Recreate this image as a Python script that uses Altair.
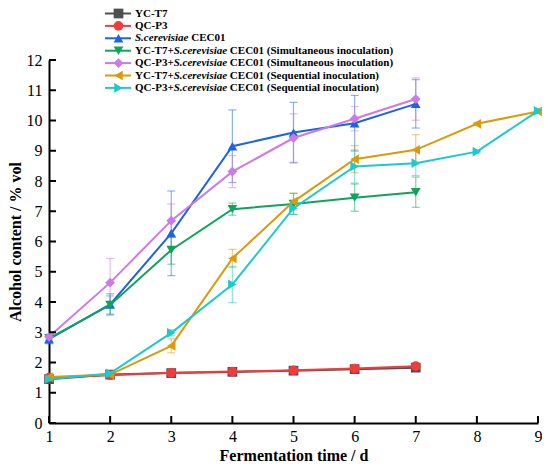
import altair as alt
import pandas as pd

# ---------------- data ----------------
series_names = [
    "YC-T7",
    "QC-P3",
    "S.cerevisiae CEC01",
    "YC-T7+S.cerevisiae CEC01 (Simultaneous inoculation)",
    "QC-P3+S.cerevisiae CEC01 (Simultaneous inoculation)",
    "YC-T7+S.cerevisiae CEC01 (Sequential inoculation)",
    "QC-P3+S.cerevisiae CEC01 (Sequential inoculation)",
]
colors = ["#4f4f4f", "#f23c3c", "#1c64e0", "#0fa35c", "#cc7ae6", "#dc9a0a", "#1ccaca"]
shapes = ["square", "circle", "triangle-up", "triangle-down", "diamond", "triangle-left", "triangle-right"]

days_short = [1, 2, 3, 4, 5, 6, 7]
days_long = [1, 2, 3, 4, 5, 6, 7, 8, 9]

yc_t7 = [1.45, 1.60, 1.65, 1.69, 1.73, 1.78, 1.83]
yc_t7_sd = [0.04, 0.04, 0.04, 0.04, 0.04, 0.04, 0.04]
qc_p3 = [1.50, 1.58, 1.66, 1.70, 1.74, 1.80, 1.88]
qc_p3_sd = [0.04, 0.04, 0.04, 0.04, 0.04, 0.04, 0.05]
sc = [2.77, 3.92, 6.27, 9.15, 9.60, 9.91, 10.55]
sc_sd = [0.15, 0.35, 1.40, 1.20, 1.00, 0.92, 0.80]
yc_sim = [2.80, 3.90, 5.72, 7.07, 7.24, 7.45, 7.63]
yc_sim_sd = [0.08, 0.30, 0.47, 0.20, 0.35, 0.45, 0.50]
qc_sim = [2.85, 4.64, 6.69, 8.31, 9.42, 10.06, 10.71]
qc_sim_sd = [0.08, 0.80, 0.55, 0.53, 0.80, 0.40, 0.70]
yc_seq = [1.52, 1.60, 2.55, 5.44, 7.32, 8.72, 9.03, 9.89, 10.30]
yc_seq_sd = [0.08, 0.05, 0.23, 0.30, 0.28, 0.45, 0.50, 0.05, 0.05]
qc_seq = [1.45, 1.64, 2.98, 4.58, 7.10, 8.48, 8.59, 8.97, 10.32]
qc_seq_sd = [0.05, 0.06, 0.10, 0.60, 0.20, 0.55, 0.41, 0.05, 0.08]

y_tick_values = list(range(0, 13))
x_tick_values = list(range(1, 10))

legend_prefix = ["YC-T7", "QC-P3", "", "YC-T7+", "QC-P3+", "YC-T7+", "QC-P3+"]
legend_italic = ["", "", "S.cerevisiae", "S.cerevisiae", "S.cerevisiae", "S.cerevisiae", "S.cerevisiae"]
legend_suffix = [
    "", "", "CEC01",
    "CEC01 (Simultaneous inoculation)",
    "CEC01 (Simultaneous inoculation)",
    "CEC01 (Sequential inoculation)",
    "CEC01 (Sequential inoculation)",
]

all_values = [yc_t7, qc_p3, sc, yc_sim, qc_sim, yc_seq, qc_seq]
all_sd = [yc_t7_sd, qc_p3_sd, sc_sd, yc_sim_sd, qc_sim_sd, yc_seq_sd, qc_seq_sd]
all_days = [days_short] * 5 + [days_long] * 2

# ---------------- layout constants ----------------
W, H = 489, 363
FONT = "Liberation Serif"
LEG_FS = 11

bold_w = {"Y": .722, "C": .722, "-": .333, "T": .667, "7": .5, "+": .570,
          "Q": .778, "P": .611, "3": .5, " ": .25}
bi_w = {"S": .556, ".": .25, "c": .444, "e": .444, "r": .389, "v": .444,
        "i": .278, "s": .389, "a": .5}


def text_width(s, table):
    return sum(table.get(ch, .5) for ch in s) * LEG_FS


xscale = alt.Scale(domain=[1, 9], nice=False, zero=False)
yscale = alt.Scale(domain=[0, 12], nice=False, zero=False)
cscale = alt.Scale(domain=series_names, range=colors)
sscale = alt.Scale(domain=series_names, range=shapes)

x_axis = alt.Axis(
    values=x_tick_values, format="d", ticks=False, grid=False,
    domainColor="black", domainWidth=2, labelFlush=False,
    labelFont=FONT, labelFontSize=16, labelColor="black", labelPadding=5,
    title="Fermentation time / d", titleFont=FONT, titleFontSize=16,
    titleFontWeight="bold", titleColor="black",
    titleX=W / 2, titleY=32, titleBaseline="middle", titleAlign="center",
)
y_axis = alt.Axis(
    values=y_tick_values, format="d", ticks=False, grid=False,
    domainColor="black", domainWidth=2,
    labelFont=FONT, labelFontSize=16, labelColor="black", labelPadding=7,
    title="Alcohol content / % vol", titleFont=FONT, titleFontSize=16,
    titleFontWeight="bold", titleColor="black",
    titleX=-34, titleY=H / 2, titleAngle=270, titleBaseline="middle", titleAlign="center",
)


def X(field):
    return alt.X(field, scale=xscale, axis=x_axis)


def Y(field):
    return alt.Y(field, scale=yscale, axis=y_axis)


frames = []
for name, vals, sds, days in zip(series_names, all_values, all_sd, all_days):
    frames.append(pd.DataFrame({
        "series": name, "day": days, "value": vals, "sd": sds,
        "lo": [v - s for v, s in zip(vals, sds)],
        "hi": [v + s for v, s in zip(vals, sds)],
    }))

layers = []

# error bars (behind)
for df in frames:
    base = alt.Chart(df).encode(
        x=X("day:Q"),
        color=alt.Color("series:N", scale=cscale, legend=None),
    )
    layers.append(base.mark_rule(strokeWidth=1.2, opacity=0.5).encode(
        y=Y("lo:Q"), y2="hi:Q"))
    layers.append(base.mark_tick(orient="horizontal", size=8, thickness=1.2, opacity=0.5).encode(
        y=Y("lo:Q")))
    layers.append(base.mark_tick(orient="horizontal", size=8, thickness=1.2, opacity=0.5).encode(
        y=Y("hi:Q")))

# lines and markers
for df in frames:
    base = alt.Chart(df).encode(
        x=X("day:Q"),
        y=Y("value:Q"),
        color=alt.Color("series:N", scale=cscale, legend=None),
    )
    layers.append(base.mark_line(strokeWidth=2))
    layers.append(base.mark_point(filled=True, opacity=1, size=95).encode(
        shape=alt.Shape("series:N", scale=sscale, legend=None)))

# inward tick marks
ydf = pd.DataFrame({"v": y_tick_values})
xdf = pd.DataFrame({"v": x_tick_values})
layers.append(alt.Chart(ydf).mark_rule(color="black", strokeWidth=2).encode(
    y=Y("v:Q"), x=alt.value(0), x2=alt.value(7)))
layers.append(alt.Chart(xdf).mark_rule(color="black", strokeWidth=2).encode(
    x=X("v:Q"), y=alt.value(H), y2=alt.value(H - 7)))

# manual legend
row_y = [-46.5 + 12.4 * i for i in range(len(series_names))]
leg = pd.DataFrame({"series": series_names, "ly": row_y})
layers.append(alt.Chart(leg).mark_rule(strokeWidth=2).encode(
    x=alt.value(56), x2=alt.value(82),
    y=alt.Y("ly:Q", scale=None, axis=None),
    color=alt.Color("series:N", scale=cscale, legend=None)))
layers.append(alt.Chart(leg).mark_point(filled=True, opacity=1, size=95).encode(
    x=alt.value(69.5),
    y=alt.Y("ly:Q", scale=None, axis=None),
    color=alt.Color("series:N", scale=cscale, legend=None),
    shape=alt.Shape("series:N", scale=sscale, legend=None)))

x0 = 86
bold_rows, ital_rows = [], []
for pre, ita, suf, y in zip(legend_prefix, legend_italic, legend_suffix, row_y):
    x = x0
    if pre:
        bold_rows.append({"tx": x, "ly": y, "t": pre})
        x += text_width(pre, bold_w)
    if ita:
        ital_rows.append({"tx": x, "ly": y, "t": ita})
        x += text_width(ita, bi_w) + bold_w[" "] * LEG_FS
    if suf:
        bold_rows.append({"tx": x, "ly": y, "t": suf})

layers.append(alt.Chart(pd.DataFrame(bold_rows)).mark_text(
    align="left", baseline="middle", font=FONT, fontSize=LEG_FS, fontWeight="bold", color="black"
).encode(x=alt.X("tx:Q", scale=None, axis=None), y=alt.Y("ly:Q", scale=None, axis=None), text="t:N"))
layers.append(alt.Chart(pd.DataFrame(ital_rows)).mark_text(
    align="left", baseline="middle", font=FONT, fontSize=LEG_FS, fontWeight="bold",
    fontStyle="italic", color="black"
).encode(x=alt.X("tx:Q", scale=None, axis=None), y=alt.Y("ly:Q", scale=None, axis=None), text="t:N"))

chart = alt.layer(*layers).properties(
    width=W, height=H,
    padding={"left": 41, "top": 52, "right": 4, "bottom": 44},
    autosize=alt.AutoSizeParams(type="none"),
    background="white",
).configure_view(stroke=None)

chart.save("out.html", embed_options={"renderer": "svg", "actions": False})
